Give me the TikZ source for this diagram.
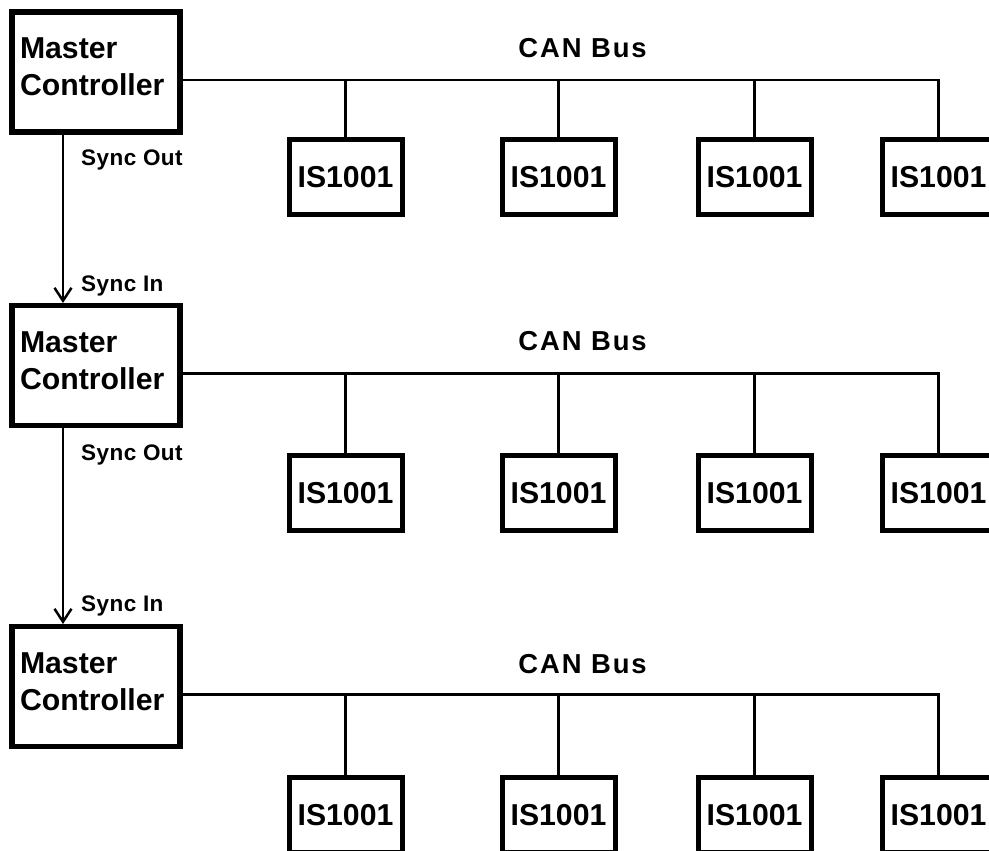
\documentclass[tikz,border=0pt]{standalone}
\usepackage{fontspec}
\setmainfont{Liberation Sans}
\newfontfamily\canfont{Liberation Sans}[LetterSpace=7]
\newfontfamily\syncfont{Liberation Sans}[LetterSpace=2]
\usetikzlibrary{arrows.meta, positioning, calc}

\begin{document}
\begin{tikzpicture}[
  >={Straight Barb[length=0.26cm, width=0.34cm]},
  node distance=0pt,
  master/.style={
    rectangle, draw, line width=2.85pt,
    minimum width=3.36cm, minimum height=2.4cm,
    text width=3.04cm, inner xsep=0.16cm, inner ysep=0pt,
    align=left, font=\bfseries\fontsize{17.2}{21}\selectfont,
  },
  module/.style={
    rectangle, draw, line width=2.85pt,
    minimum width=2.26cm, minimum height=1.5cm,
    inner sep=0pt, font=\bfseries\fontsize{17.2}{21}\selectfont,
  },
  bus/.style={line width=1.4pt},
  sync/.style={->, line width=1.4pt},
  synclabel/.style={font=\syncfont\bfseries\fontsize{12.8}{15}\selectfont,
    anchor=west, inner sep=0pt, xshift=0.34cm},
  buslabel/.style={font=\canfont\bfseries\fontsize{15.6}{18}\selectfont, inner sep=0pt},
]

\useasboundingbox (0,0) rectangle (19.78,-17);
\clip (0,0) rectangle (19.78,-17);

% ── Master controllers
\node[master] (mc1) at (1.92,-1.44) {Master\\Controller\rule[-0.2cm]{0pt}{0pt}};
\node[master, below=3.37cm of mc1] (mc2) {Master\\Controller\rule[-0.2cm]{0pt}{0pt}};
\node[master, below=3.92cm of mc2] (mc3) {Master\\Controller\rule[-0.2cm]{0pt}{0pt}};

% ── ROW 1: IS1001 modules
\node[module, below right=0.05cm and 2.08cm of mc1] (is11) {IS1001};
\node[module, right=1.9cm of is11] (is12) {IS1001};
\node[module, right=1.56cm of is12] (is13) {IS1001};
\node[module, right=1.32cm of is13] (is14) {IS1001};

\coordinate (bus1) at ([yshift=-0.16cm]mc1.east);
\draw[bus] (bus1) -| (is14.north);
\draw[bus] (is11.north) -- (is11.north |- bus1);
\draw[bus] (is12.north) -- (is12.north |- bus1);
\draw[bus] (is13.north) -- (is13.north |- bus1);
\node[buslabel] (can1) at ($(is12.north |- bus1)+(0.48,0.64)$) {CAN Bus};

% ── ROW 2: IS1001 modules
\node[module, below right=0.5cm and 2.08cm of mc2] (is21) {IS1001};
\node[module, right=1.9cm of is21] (is22) {IS1001};
\node[module, right=1.56cm of is22] (is23) {IS1001};
\node[module, right=1.32cm of is23] (is24) {IS1001};

\coordinate (bus2) at ([yshift=-0.16cm]mc2.east);
\draw[bus] (bus2) -| (is24.north);
\draw[bus] (is21.north) -- (is21.north |- bus2);
\draw[bus] (is22.north) -- (is22.north |- bus2);
\draw[bus] (is23.north) -- (is23.north |- bus2);
\node[buslabel] (can2) at ($(is22.north |- bus2)+(0.48,0.64)$) {CAN Bus};

% ── ROW 3: IS1001 modules
\node[module, below right=0.52cm and 2.08cm of mc3] (is31) {IS1001};
\node[module, right=1.9cm of is31] (is32) {IS1001};
\node[module, right=1.56cm of is32] (is33) {IS1001};
\node[module, right=1.32cm of is33] (is34) {IS1001};

\coordinate (bus3) at ([yshift=-0.16cm]mc3.east);
\draw[bus] (bus3) -| (is34.north);
\draw[bus] (is31.north) -- (is31.north |- bus3);
\draw[bus] (is32.north) -- (is32.north |- bus3);
\draw[bus] (is33.north) -- (is33.north |- bus3);
\node[buslabel] (can3) at ($(is32.north |- bus3)+(0.48,0.6)$) {CAN Bus};

% ── Sync chain
\draw[sync] ([xshift=1.07cm]mc1.south west) --
  node[synclabel, pos=0.15]{Sync Out} node[synclabel, pos=0.9]{Sync In}
  ([xshift=1.07cm]mc2.north west);
\draw[sync] ([xshift=1.07cm]mc2.south west) --
  node[synclabel, pos=0.14]{Sync Out} node[synclabel, pos=0.91]{Sync In}
  ([xshift=1.07cm]mc3.north west);

\end{tikzpicture}
\end{document}
